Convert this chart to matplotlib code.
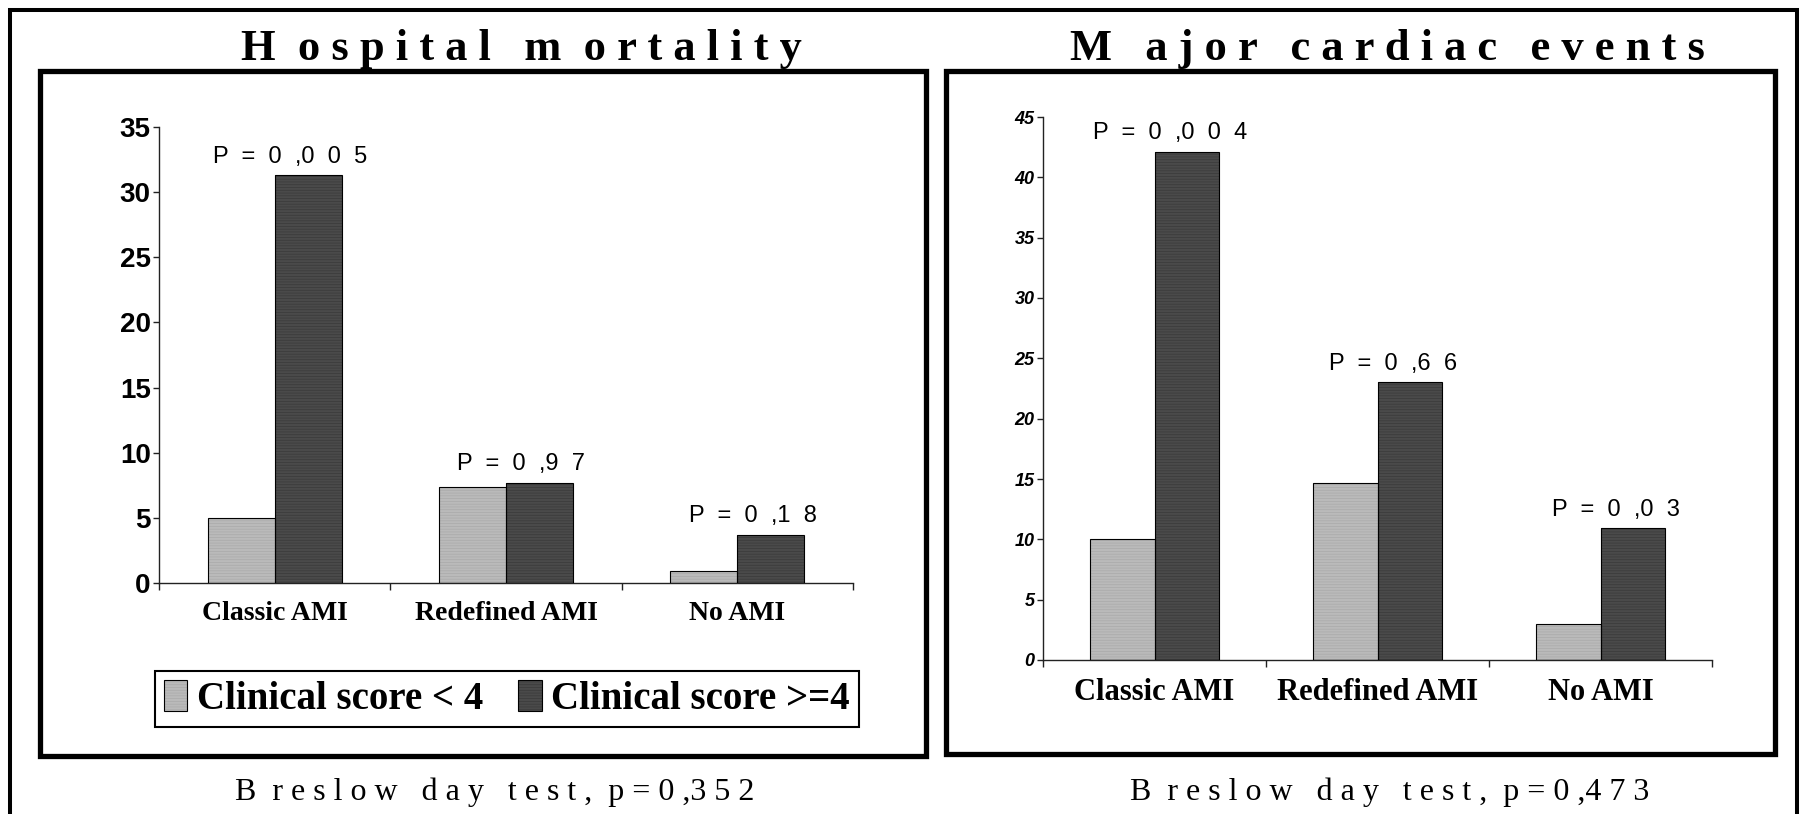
import numpy as np
import matplotlib.pyplot as plt
from matplotlib.patches import Rectangle

categories = ['Classic AMI', 'Redefined AMI', 'No AMI']
series_names = ['Clinical score < 4', 'Clinical score >=4']

mortality_low = [5.0, 7.4, 0.9]
mortality_high = [31.3, 7.7, 3.7]
mortality_p = ['P  =  0  ,0  0  5', 'P  =  0  ,9  7', 'P  =  0  ,1  8']

events_low = [10.0, 14.7, 3.0]
events_high = [42.1, 23.0, 10.9]
events_p = ['P  =  0  ,0  0  4', 'P  =  0  ,6  6', 'P  =  0  ,0  3']

W, H = 1805, 814
SERIF = 'Liberation Serif'
SANS = 'Liberation Sans'
LIGHT, LIGHT_STRIPE = '#bababa', '#aaaaaa'
DARK, DARK_STRIPE = '#4a4a4a', '#3a3a3a'

plt.rcParams['hatch.linewidth'] = 0.5


def fx(px):
    return px / W


def fy(py):
    return 1 - py / H


def draw_panel(ax, low, high, plabels, ymax, ytick_font, xlabel_size):
    x = np.arange(len(categories))
    w = 0.29
    bars = []
    for off, vals, col, stripe in [(-w / 2, low, LIGHT, LIGHT_STRIPE),
                                   (w / 2, high, DARK, DARK_STRIPE)]:
        fill = ax.bar(x + off, vals, w, color=col, edgecolor=stripe,
                      linewidth=0, hatch='------', zorder=2)
        edge = ax.bar(x + off, vals, w, fill=False, edgecolor='black',
                      linewidth=0.8, zorder=3)
        bars.append((fill, edge))

    for i, txt in enumerate(plabels):
        ax.annotate(txt, xy=(i, high[i]), xytext=(11, 9),
                    textcoords='offset points', ha='center', va='baseline',
                    fontsize=17, family=SANS)

    ax.set_xlim(-0.5, 2.5)
    ax.set_ylim(0, ymax)
    ax.set_facecolor('none')
    for s in ['top', 'right']:
        ax.spines[s].set_visible(False)
    for s in ['left', 'bottom']:
        ax.spines[s].set_linewidth(1)
        ax.spines[s].set_color('#222222')

    ax.set_xticks(x)
    ax.set_xticklabels(categories, family=SERIF, fontweight='bold',
                       fontsize=xlabel_size)
    ax.set_xticks([-0.5, 0.5, 1.5, 2.5], minor=True)
    ax.tick_params(axis='x', which='major', length=0, pad=13)
    ax.tick_params(axis='x', which='minor', length=5, width=1,
                   direction='out', color='#222222')
    ax.set_yticks(np.arange(0, ymax + 1, 5))
    ax.tick_params(axis='y', length=4, width=1, pad=2, color='#222222')
    for lab in ax.get_yticklabels():
        lab.set(**ytick_font)
    return bars


fig = plt.figure(figsize=(W / 100, H / 100), dpi=100)

# outer frame and the two chart boxes
fig.add_artist(Rectangle((fx(10), fy(830)), fx(1797) - fx(10), (830 - 10) / H,
                         transform=fig.transFigure, fill=False,
                         lw=2.9, ec='black'))
for x0, x1, y0, y1 in [(40, 926, 71, 756), (946, 1775, 71, 754)]:
    fig.add_artist(Rectangle((fx(x0), fy(y1)), fx(x1) - fx(x0), (y1 - y0) / H,
                             transform=fig.transFigure, fill=False,
                             lw=3.8, ec='black'))

ax1 = fig.add_axes([fx(159), fy(583), fx(853) - fx(159), (583 - 127) / H])
bars = draw_panel(ax1, mortality_low, mortality_high, mortality_p, 35,
                  dict(family=SANS, fontweight='bold', fontsize=20), 20)

ax2 = fig.add_axes([fx(1043), fy(660), fx(1712) - fx(1043), (660 - 117) / H])
draw_panel(ax2, events_low, events_high, events_p, 45,
           dict(family=SANS, fontweight='bold', fontstyle='italic',
                fontsize=13), 22)

leg = ax1.legend(bars, series_names, loc='center',
                 bbox_to_anchor=(fx(507), fy(699)),
                 bbox_transform=fig.transFigure, ncol=2, fancybox=False,
                 edgecolor='black', framealpha=1, borderpad=0.22,
                 handlelength=0.6, handleheight=0.85, handletextpad=0.25,
                 columnspacing=0.9, borderaxespad=0,
                 prop=dict(family=SERIF, weight='bold', size=28))
leg.get_frame().set_linewidth(1.5)

fig.text(fx(521), fy(60), 'H  o s p i t a l   m  o r t a l i t y',
         ha='center', va='baseline', family=SERIF, fontweight='bold',
         fontsize=32)
fig.text(fx(1387), fy(60), 'M   a j o r   c a r d i a c   e v e n t s',
         ha='center', va='baseline', family=SERIF, fontweight='bold',
         fontsize=32)
fig.text(fx(495), fy(800), 'B  r e s l o w   d a y   t e s t ,  p = 0 ,3 5 2',
         ha='center', va='baseline', family=SERIF, fontsize=23)
fig.text(fx(1390), fy(800), 'B  r e s l o w   d a y   t e s t ,  p = 0 ,4 7 3',
         ha='center', va='baseline', family=SERIF, fontsize=23)

fig.savefig('out.png', dpi=100)
